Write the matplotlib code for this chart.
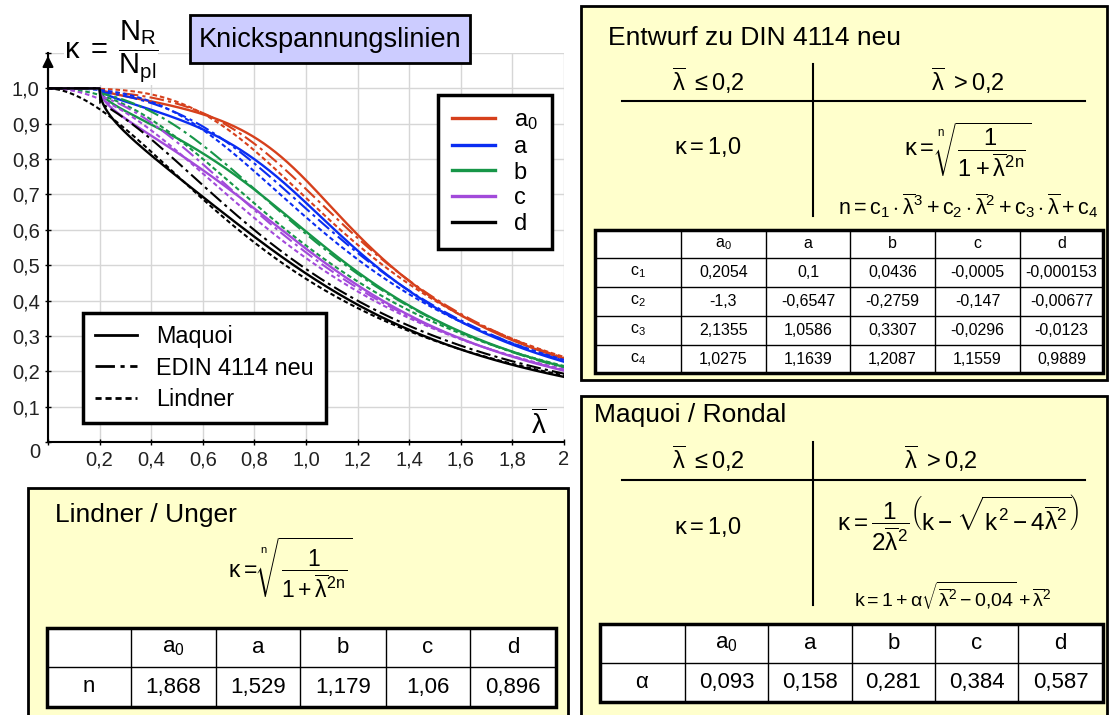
import numpy as np
import matplotlib.pyplot as plt
from matplotlib.lines import Line2D
from matplotlib.patches import Rectangle

plt.rcParams['font.family'] = ['Liberation Sans', 'DejaVu Sans']
plt.rcParams['mathtext.fontset'] = 'custom'
plt.rcParams['mathtext.rm'] = 'Liberation Sans'
plt.rcParams['mathtext.it'] = 'Liberation Sans'
plt.rcParams['mathtext.sf'] = 'Liberation Sans'
plt.rcParams['mathtext.bf'] = 'Liberation Sans:bold'

# buckling curve classes
classes = ['a$_0$', 'a', 'b', 'c', 'd']
colors = ['#d6401c', '#0a2df2', '#179648', '#a24ada', '#000000']

# Entwurf zu DIN 4114 neu: n = c1*l^3 + c2*l^2 + c3*l + c4
din_c1 = [0.2054, 0.1, 0.0436, -0.0005, -0.000153]
din_c2 = [-1.3, -0.6547, -0.2759, -0.147, -0.00677]
din_c3 = [2.1355, 1.0586, 0.3307, -0.0296, -0.0123]
din_c4 = [1.0275, 1.1639, 1.2087, 1.1559, 0.9889]
# c2 used for the drawn class-c curve (the table entry -0,147 lacks a zero)
din_c2_curve = [-1.3, -0.6547, -0.2759, -0.0147, -0.00677]

# Lindner / Unger exponent n
lindner_n = [1.868, 1.529, 1.179, 1.06, 0.896]

# Maquoi / Rondal imperfection factor alpha
maquoi_alpha = [0.093, 0.158, 0.281, 0.384, 0.587]

x_ticks = np.round(np.arange(0, 2.01, 0.2), 1)
y_ticks = np.round(np.arange(0, 1.11, 0.1), 1)

LB = r'\overline{\lambda}'


def de(v):
    return str(v).replace('.', ',')


def maquoi(lam, alpha):
    kap = np.ones_like(lam)
    m = lam > 0.2
    l = lam[m]
    k = 1 + alpha * np.sqrt(l**2 - 0.04) + l**2
    kap[m] = (k - np.sqrt(k**2 - 4 * l**2)) / (2 * l**2)
    return kap


def din(lam, c1, c2, c3, c4):
    kap = np.ones_like(lam)
    m = lam > 0.2
    l = lam[m]
    n = c1 * l**3 + c2 * l**2 + c3 * l + c4
    kap[m] = (1 + l**(2 * n))**(-1 / n)
    return kap


def lindner(lam, n):
    return (1 + lam**(2 * n))**(-1 / n)


W, H = 1109, 715
fig = plt.figure(figsize=(W / 100, H / 100), dpi=100)

ax = fig.add_axes([48 / W, 1 - 442 / H, (564 - 48) / W, (442 - 53) / H])
lam = np.linspace(0, 2, 801)
dashdot = (0, (7, 2, 1.5, 2))
dashed = (0, (2.2, 1.4))
for i, col in enumerate(colors):
    ax.plot(lam, lindner(lam, lindner_n[i]), color=col, lw=1.5, ls=dashed)
    ax.plot(lam, din(lam, din_c1[i], din_c2_curve[i], din_c3[i], din_c4[i]),
            color=col, lw=1.5, ls=dashdot)
    ax.plot(lam, maquoi(lam, maquoi_alpha[i]), color=col, lw=1.7)

ax.set_xlim(0, 2)
ax.set_ylim(0, 1.1)
ax.set_xticks(x_ticks)
ax.set_xticklabels(['' if v == 0 else ('2' if v == 2 else de(v)) for v in x_ticks])
ax.set_yticks(y_ticks)
ax.set_yticklabels(['' if v in (0, 1.1) else de(v) for v in y_ticks])
ax.grid(color='#d6d6d6', lw=1)
ax.set_axisbelow(True)
for s in ('top', 'right'):
    ax.spines[s].set_visible(False)
for s in ('left', 'bottom'):
    ax.spines[s].set_linewidth(1.5)
ax.tick_params(direction='inout', length=4, width=1, labelsize=14.5,
               labelcolor='#222222', pad=4)
ax.annotate('', xy=(0, 1.1), xytext=(0, 1.0),
            arrowprops=dict(arrowstyle='-|>', color='k', lw=1.5, mutation_scale=16),
            annotation_clip=False)

leg1 = ax.legend([Line2D([], [], color=c, lw=2.4) for c in colors], classes,
                 loc='upper left', bbox_to_anchor=(438 / W, 1 - 95 / H),
                 bbox_transform=fig.transFigure, fancybox=False, edgecolor='k',
                 framealpha=1, fontsize=17, handlelength=1.8, handletextpad=0.8,
                 labelspacing=0.16, borderpad=0.6, borderaxespad=0)
leg1.get_frame().set_linewidth(2.5)
ax.add_artist(leg1)
leg2 = ax.legend([Line2D([], [], color='k', lw=2, ls=s) for s in ('-', dashdot, dashed)],
                 ['Maquoi', 'EDIN 4114 neu', 'Lindner'],
                 loc='upper left', bbox_to_anchor=(83 / W, 1 - 313 / H),
                 bbox_transform=fig.transFigure, fancybox=False, edgecolor='k',
                 framealpha=1, fontsize=16.8, handlelength=1.8, handletextpad=0.85,
                 labelspacing=0.38, borderpad=0.5, borderaxespad=0)
leg2.get_frame().set_linewidth(2.5)

# overlay in pixel coordinates for labels and formula panels
ov = fig.add_axes([0, 0, 1, 1], zorder=5)
ov.set_xlim(0, W)
ov.set_ylim(H, 0)
ov.axis('off')
ov.patch.set_alpha(0)

ov.add_patch(Rectangle((190, 15), 280, 48, fc='#ccccff', ec='k', lw=2))
ov.text(330, 40, 'Knickspannungslinien', fontsize=19.5, ha='center', va='center')
ov.text(64, 52, r'$\kappa\;=\;\dfrac{N_\mathrm{R}}{N_\mathrm{pl}}$', fontsize=21,
        ha='left', va='center', bbox=dict(fc='white', ec='none', pad=0))
ov.text(35, 452, '0', fontsize=14.5, ha='center', va='center', color='#222222')
ov.text(539, 425, '$' + LB + '$', fontsize=20, ha='center', va='center')


def draw_table(xe, ye, rows, fs):
    x0, x1, y0, y1 = xe[0], xe[-1], ye[0], ye[-1]
    ov.add_patch(Rectangle((x0, y0), x1 - x0, y1 - y0, fc='white', ec='none'))
    for x in xe[1:-1]:
        ov.plot([x, x], [y0, y1], color='k', lw=1)
    for y in ye[1:-1]:
        ov.plot([x0, x1], [y, y], color='k', lw=1)
    ov.add_patch(Rectangle((x0, y0), x1 - x0, y1 - y0, fc='none', ec='k', lw=2.5))
    for i, row in enumerate(rows):
        yc = (ye[i] + ye[i + 1]) / 2
        for j, txt in enumerate(row):
            ov.text((xe[j] + xe[j + 1]) / 2, yc, txt, ha='center', va='center',
                    fontsize=fs)


def header(xl, xr, y_head, y_line, v_top, v_bot):
    ov.text(xl, y_head, '$' + LB + r'\ \leq 0{,}2$', fontsize=17, ha='center', va='center')
    ov.text(xr, y_head, '$' + LB + r'\ > 0{,}2$', fontsize=17, ha='center', va='center')
    ov.plot([622, 1085], [y_line, y_line], color='k', lw=1.5)
    ov.plot([813, 813], [v_top, v_bot], color='k', lw=1.5)


root_formula = r'$\kappa = \sqrt[n]{\dfrac{1}{1+' + LB + r'^{2n}}}$'

# Entwurf zu DIN 4114 neu
ov.add_patch(Rectangle((581, 6), 526, 374, fc='#ffffcc', ec='k', lw=2))
ov.text(608, 38, 'Entwurf zu DIN 4114 neu', fontsize=19, va='center')
header(708, 968, 81, 101, 64, 216)
ov.text(708, 147, r'$\kappa = 1{,}0$', fontsize=17, ha='center', va='center')
ov.text(968, 150, root_formula, fontsize=17, ha='center', va='center')
ov.text(968, 206, r'$n = c_1 \cdot ' + LB + r'^3 + c_2 \cdot ' + LB +
        r'^2 + c_3 \cdot ' + LB + r' + c_4$', fontsize=15.5, ha='center', va='center')
din_rows = [[''] + classes]
for name, vals in zip(['c$_1$', 'c$_2$', 'c$_3$', 'c$_4$'],
                      [din_c1, din_c2, din_c3, din_c4]):
    din_rows.append([name] + [de(v) for v in vals])
draw_table([595, 681, 766, 850, 935, 1020, 1103], [230, 258, 287, 316, 345, 373],
           din_rows, 11.5)

# Maquoi / Rondal
ov.add_patch(Rectangle((581, 396), 526, 340, fc='#ffffcc', ec='k', lw=2))
ov.text(594, 415, 'Maquoi / Rondal', fontsize=19, va='center')
header(708, 941, 459, 480, 442, 605)
ov.text(708, 527, r'$\kappa = 1{,}0$', fontsize=17, ha='center', va='center')
ov.text(958, 523, r'$\kappa = \dfrac{1}{2' + LB + r'^2}\left(k - \sqrt{k^2 - 4' + LB +
        r'^2}\right)$', fontsize=17.5, ha='center', va='center')
ov.text(953, 596, r'$k = 1 + \alpha\sqrt{' + LB + r'^2 - 0{,}04} + ' + LB + '^2$',
        fontsize=14, ha='center', va='center')
draw_table([600, 685, 768, 852, 935, 1018, 1103], [624, 663, 702],
           [[''] + classes, [r'$\alpha$'] + [de(v) for v in maquoi_alpha]], 16)

# Lindner / Unger
ov.add_patch(Rectangle((28, 488), 540, 250, fc='#ffffcc', ec='k', lw=2))
ov.text(55, 515, 'Lindner / Unger', fontsize=19, va='center')
ov.text(290, 568, root_formula, fontsize=16.5, ha='center', va='center')
draw_table([47, 131, 216, 300, 386, 470, 556], [628, 667, 707],
           [[''] + classes, ['n'] + [de(v) for v in lindner_n]], 16)

fig.savefig('out.png', dpi=100)
